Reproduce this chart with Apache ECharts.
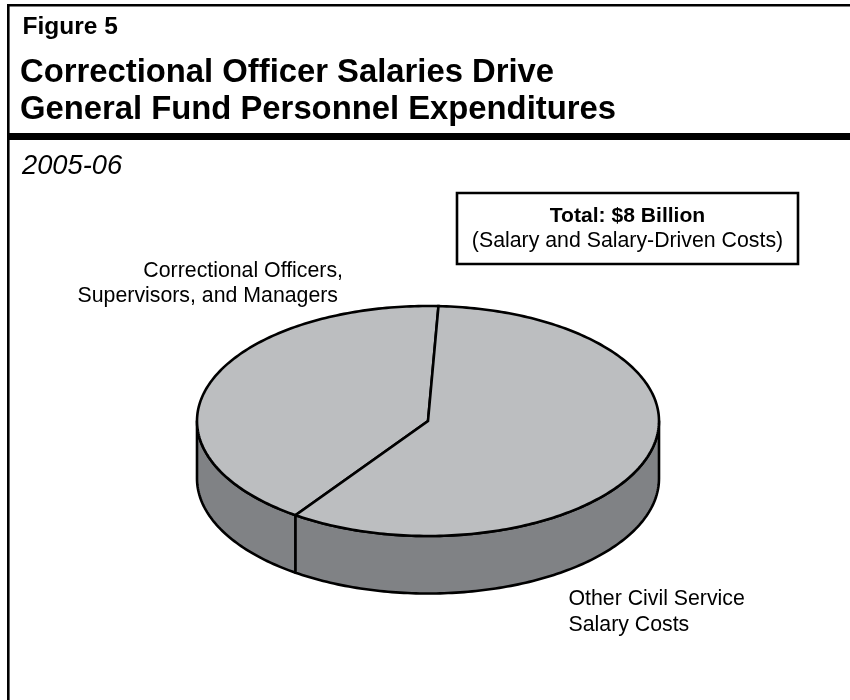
<!DOCTYPE html>
<html><head><meta charset="utf-8">
<style>html,body{margin:0;padding:0;background:#fff}#c{width:850px;height:700px}</style>
<script src="https://cdn.jsdelivr.net/npm/echarts@6/dist/echarts.min.js"></script>
</head><body><div id="c"></div>
<script>
const categories = ['Correctional Officers,\nSupervisors, and Managers', 'Other Civil Service\nSalary Costs'];
const shares = [41, 59];
const startDegrees = 215;
const depth = 0.5;
const figureLabel = 'Figure 5';
const titleText = 'Correctional Officer Salaries Drive\nGeneral Fund Personnel Expenditures';
const subtitleText = '2005-06';
const totalBold = 'Total: $8 Billion';
const totalNote = '(Salary and Salary-Driven Costs)';

const FONT = '"Liberation Sans", Arial, sans-serif';
const TOP = '#bcbec0', SIDE = '#808285', INK = '#000';
const total = shares.reduce((a, b) => a + b, 0);
const starts = shares.map((_, i) => startDegrees + shares.slice(0, i).reduce((a, b) => a + b, 0) / total * 360);
const officerLines = categories[0].split('\n');

function unit(deg) { const t = deg * Math.PI / 180; return [Math.sin(t), Math.cos(t)]; }
function arc(a, b) { const pts = []; const n = Math.max(2, Math.ceil(Math.abs(b - a))); for (let i = 0; i <= n; i++) pts.push(a + (b - a) * i / n); return pts; }

function renderSlice(params, api) {
  const i = params.dataIndex;
  const a = starts[i], b = a + api.value(0) / total * 360;
  const children = [];
  for (const k of [0, 360]) {
    const lo = Math.max(a, 90 + k), hi = Math.min(b, 270 + k);
    if (hi > lo) {
      const angs = arc(lo, hi);
      const upper = angs.map(d => api.coord(unit(d)));
      const lower = angs.slice().reverse().map(d => { const u = unit(d); return api.coord([u[0], u[1] - depth]); });
      children.push({ type: 'polygon', shape: { points: upper.concat(lower) },
        style: { fill: SIDE, stroke: INK, lineWidth: 2.6, lineJoin: 'round' } });
    }
  }
  const rim = arc(a, b).map(d => api.coord(unit(d)));
  children.push({ type: 'polygon', z2: 5, shape: { points: [api.coord([0, 0])].concat(rim) },
    style: { fill: TOP, stroke: INK, lineWidth: 2.6, lineJoin: 'miter' } });
  return { type: 'group', children };
}

const chart = echarts.init(document.getElementById('c'), null, { renderer: 'canvas' });
chart.setOption({
  animation: false,
  backgroundColor: '#fff',
  title: [
    { text: figureLabel, left: 22.5, top: 15, padding: 0, textStyle: { fontFamily: FONT, fontSize: 24.5, fontWeight: 'bold', color: INK } },
    { text: titleText, left: 20, top: 54, padding: 0, textStyle: { fontFamily: FONT, fontSize: 32.8, fontWeight: 'bold', color: INK, lineHeight: 37.5 } },
    { text: subtitleText, left: 22, top: 153, padding: 0, textStyle: { fontFamily: FONT, fontSize: 27.3, fontWeight: 'normal', fontStyle: 'italic', color: INK } }
  ],
  grid: { left: 197, width: 462, top: 306, height: 287.5, containLabel: false },
  xAxis: { type: 'value', min: -1, max: 1, show: false },
  yAxis: { type: 'value', min: -1 - depth, max: 1, show: false },
  series: [{
    type: 'custom', coordinateSystem: 'cartesian2d', clip: false,
    renderItem: renderSlice,
    encode: { x: 0, y: 0 },
    data: shares.map((v, i) => ({ name: categories[i], value: [v] })),
    silent: true
  }],
  graphic: [
    { type: 'rect', shape: { x: 8.3, y: 5.2, width: 860, height: 720 }, style: { fill: 'none', stroke: INK, lineWidth: 2.6 }, silent: true },
    { type: 'rect', shape: { x: 8, y: 133, width: 842, height: 7 }, style: { fill: INK }, silent: true },
    { type: 'rect', shape: { x: 457, y: 193, width: 341, height: 71 }, style: { fill: '#fff', stroke: INK, lineWidth: 2.6 }, silent: true },
    { type: 'text', x: 627.5, y: 206, silent: true, style: { text: totalBold, fill: INK, align: 'center', font: 'bold 21.1px ' + FONT } },
    { type: 'text', x: 627.5, y: 231, silent: true, style: { text: totalNote, fill: INK, align: 'center', font: '21.3px ' + FONT } },
    { type: 'text', x: 343, y: 261, silent: true, style: { text: officerLines[0], fill: INK, align: 'right', font: '21.3px ' + FONT } },
    { type: 'text', x: 338, y: 286, silent: true, style: { text: officerLines[1], fill: INK, align: 'right', font: '21.3px ' + FONT } },
    { type: 'text', x: 568.5, y: 586.5, silent: true, style: { text: categories[1], fill: INK, align: 'left', lineHeight: 25.5, font: '21.3px ' + FONT } }
  ]
});
</script></body></html>
